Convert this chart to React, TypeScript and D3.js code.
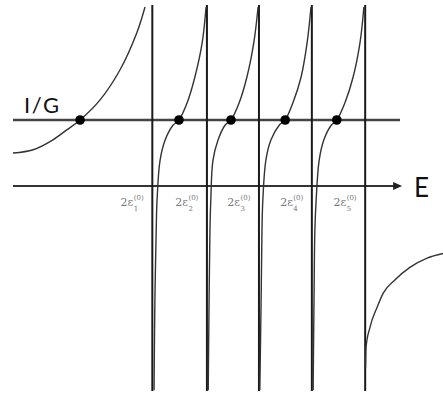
import * as d3 from "d3";

// positions of the poles 2ε_k^(0) on the energy axis
const poles = [3.24, 4.51, 5.72, 6.95, 8.19];
const poleLabels = ["1", "2", "3", "4", "5"];

// level of 1/G and the crossings with it
const invG = 1.0;
const roots = [1.56, 3.86, 5.07, 6.33, 7.53];

// branch values (E, f)
const branch0E = [0.0, 0.47, 0.93, 1.25, 1.56, 2.02, 2.49, 2.88, 3.07];
const branch0F = [0.5, 0.55, 0.7, 0.85, 1.0, 1.3, 1.76, 2.32, 2.71];

const midF = [-3.09, -1.73, -0.67, -0.21, 0.39, 0.7, 0.92, 1.0, 1.26, 1.65, 2.17, 2.71];
const branch1E = [3.28, 3.3, 3.33, 3.35, 3.42, 3.54, 3.72, 3.86, 4.05, 4.23, 4.4, 4.49];
const branch2E = [4.54, 4.56, 4.58, 4.6, 4.65, 4.77, 4.93, 5.07, 5.26, 5.44, 5.6, 5.7];
const branch3E = [5.74, 5.77, 5.79, 5.81, 5.88, 6.0, 6.19, 6.33, 6.51, 6.7, 6.84, 6.93];
const branch4E = [6.98, 7.0, 7.02, 7.05, 7.12, 7.23, 7.4, 7.53, 7.72, 7.91, 8.07, 8.16];

const branch5E = [8.2, 8.21, 8.3, 8.47, 8.61, 8.88, 9.23, 9.63, 10.0];
const branch5F = [-2.75, -2.44, -2.14, -1.83, -1.62, -1.42, -1.23, -1.09, -1.02];

const W = 443;
const H = 396;

const App = () => {
  const x = d3.scaleLinear().domain([0, 10]).range([13, 443]);
  const y = d3.scaleLinear().domain([-3.1, 2.8]).range([391, 1]);

  const line = d3
    .line<[number, number]>()
    .x((d) => x(d[0]))
    .y((d) => y(d[1]))
    .curve(d3.curveCatmullRom.alpha(0.5));

  const smooth = d3
    .line<[number, number]>()
    .x((d) => x(d[0]))
    .y((d) => y(d[1]))
    .curve(d3.curveMonotoneX);

  const zip = (es: number[], fs: number[]) => es.map((e, i) => [e, fs[i]] as [number, number]);

  const branches = [
    zip(branch0E, branch0F),
    zip(branch1E, midF),
    zip(branch2E, midF),
    zip(branch3E, midF),
    zip(branch4E, midF),
  ];
  const lastBranch = zip(branch5E, branch5F);

  const y0 = y(0);
  const yG = y(invG);
  const axisEnd = x(9.05);

  return (
    <svg
      width={W}
      height={H}
      style={{ position: "absolute", left: 0, top: 0, background: "#fff" }}
    >
      {/* 1/G level */}
      <line x1={x(0)} x2={x(9.0)} y1={yG} y2={yG} stroke="#444" strokeWidth={2.6} />
      <text x={24} y={113} fontFamily="Lato, 'Open Sans', sans-serif" fontSize={22} letterSpacing={1.5} fill="#111">
        I/G
      </text>

      {/* energy axis */}
      <line x1={x(0)} x2={axisEnd - 6} y1={y0} y2={y0} stroke="#333" strokeWidth={2} />
      <path
        d={`M${axisEnd},${y0} L${axisEnd - 9},${y0 - 4} L${axisEnd - 9},${y0 + 4} Z`}
        fill="#222"
      />
      <text x={414} y={197} fontFamily="Lato, 'Open Sans', sans-serif" fontSize={26} fill="#111">
        E
      </text>

      {/* poles */}
      {poles.map((p, i) => (
        <line key={"p" + i} x1={x(p)} x2={x(p)} y1={y(2.74)} y2={y(-3.1)} stroke="#1a1a1a" strokeWidth={2} />
      ))}

      {/* branches */}
      {branches.map((b, i) => (
        <path key={"b" + i} d={line(b) ?? ""} fill="none" stroke="#333" strokeWidth={1.4} />
      ))}
      <path d={smooth(lastBranch) ?? ""} fill="none" stroke="#333" strokeWidth={1.4} />

      {/* crossings */}
      {roots.map((r, i) => (
        <circle key={"r" + i} cx={x(r)} cy={yG} r={4.8} fill="#000" />
      ))}

      {/* pole labels */}
      {poles.map((p, i) => {
        const xe = x(p) - 19;
        return (
          <g key={"l" + i} fill="#777" fontFamily="'DejaVu Serif', 'Liberation Serif', serif">
            <text x={xe} y={206} fontSize={11} textAnchor="end">
              2ε
            </text>
            <text x={xe + 0.5} y={200} fontSize={7}>
              (0)
            </text>
            <text x={xe + 0.5} y={211} fontSize={7}>
              {poleLabels[i]}
            </text>
          </g>
        );
      })}
    </svg>
  );
};

export default App;
